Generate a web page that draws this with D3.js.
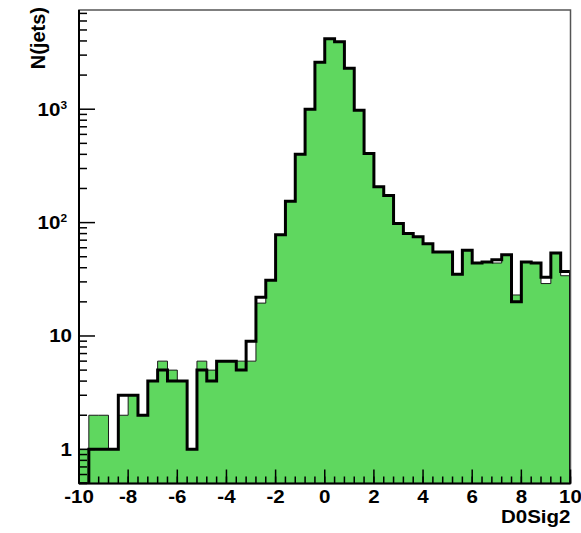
<!DOCTYPE html>
<html>
<head>
<meta charset="utf-8">
<script src="https://cdn.jsdelivr.net/npm/d3@7/dist/d3.min.js"></script>
<style>
  html, body { margin: 0; padding: 0; background: #ffffff; }
  svg { display: block; }
  text { font-family: "Liberation Sans", Arial, Helvetica, sans-serif; font-weight: bold; fill: #000; }
</style>
</head>
<body>
<svg id="chart" width="581" height="533"></svg>
<script>
// Bin edges of the D0Sig2 histogram (50 bins of 0.4 from -10 to 10)
const binEdges = [
  -10, -9.6, -9.2, -8.8, -8.4, -8, -7.6, -7.2, -6.8, -6.4,
  -6, -5.6, -5.2, -4.8, -4.4, -4, -3.6, -3.2, -2.8, -2.4,
  -2, -1.6, -1.2, -0.8, -0.4, 0, 0.4, 0.8, 1.2, 1.6,
  2, 2.4, 2.8, 3.2, 3.6, 4, 4.4, 4.8, 5.2, 5.6,
  6, 6.4, 6.8, 7.2, 7.6, 8, 8.4, 8.8, 9.2, 9.6, 10
];

// Filled (green) histogram contents per bin
const filledCounts = [
  1, 2, 2, 1, 2, 3, 2, 4, 6, 5,
  4, 1, 6, 5, 6, 6, 6, 6, 19.5, 31,
  78, 154, 400, 1000, 2600, 4190, 3930, 2300, 980, 406,
  207, 173, 98, 80, 75, 65, 55, 55, 35, 57,
  44, 45, 44, 52, 23, 45, 44, 29, 54, 34
];

// Outline (black) histogram contents per bin
const lineCounts = [
  0, 1, 1, 1, 3, 3, 2, 4, 5, 4,
  4, 1, 5, 4, 6, 6, 5, 9, 22, 31,
  78, 154, 400, 1000, 2600, 4190, 3930, 2300, 980, 406,
  207, 173, 98, 80, 75, 65, 55, 55, 35, 57,
  44, 45, 47, 52, 20, 45, 44, 33, 54, 37
];

const xTickValues = [-10, -8, -6, -4, -2, 0, 2, 4, 6, 8, 10];
const xTickLabels = ["-10", "-8", "-6", "-4", "-2", "0", "2", "4", "6", "8", "10"];
const yMajorTicks = [1, 10, 100, 1000];
const yTickLabels = ["1", "10", "10^2", "10^3"];
const xTitle = "D0Sig2";
const yTitle = "N(jets)";

const svg = d3.select("#chart");
const frameL = 79, frameR = 570.5, frameT = 10, frameB = 483.5;

const x = d3.scaleLinear().domain([-10, 10]).range([frameL, frameR]);
const y = d3.scaleLog().domain([0.5, 7500]).range([frameB, frameT]).clamp(true);
const yv = v => (v > 0 ? y(v) : frameB);

// Step outline of a histogram, closed down to the baseline at both ends
function stepPoints(counts) {
  const pts = [[x(binEdges[0]), frameB]];
  counts.forEach((c, i) => {
    pts.push([x(binEdges[i]), yv(c)]);
    pts.push([x(binEdges[i + 1]), yv(c)]);
  });
  pts.push([x(binEdges[binEdges.length - 1]), frameB]);
  return pts;
}

const line = d3.line();

const plot = svg.append("g");
plot.append("defs").append("clipPath").attr("id", "frameClip")
  .append("rect").attr("x", frameL).attr("y", frameT)
  .attr("width", frameR - frameL).attr("height", frameB - frameT);

const hist = plot.append("g").attr("clip-path", "url(#frameClip)");

hist.append("path")
  .attr("d", line(stepPoints(filledCounts)) + "Z")
  .attr("fill", "#5fd75f")
  .attr("stroke", "#1a1a1a")
  .attr("stroke-width", 1);

hist.append("path")
  .attr("d", line(stepPoints(lineCounts)))
  .attr("fill", "none")
  .attr("stroke", "#000")
  .attr("stroke-width", 3)
  .attr("stroke-linejoin", "miter");

// Frame
svg.append("rect")
  .attr("x", frameL).attr("y", frameT)
  .attr("width", frameR - frameL).attr("height", frameB - frameT)
  .attr("fill", "none").attr("stroke", "#555").attr("stroke-width", 1.5);

// X axis: major ticks every 2, minor ticks every 0.4, drawn inward
const xAxis = svg.append("g");
const xMinor = d3.range(0, 51).map(i => -10 + 0.4 * i);
xAxis.selectAll("line.minor").data(xMinor).join("line")
  .attr("class", "minor")
  .attr("x1", d => x(d)).attr("x2", d => x(d))
  .attr("y1", frameB).attr("y2", frameB - 7)
  .attr("stroke", "#000").attr("stroke-width", 1.5);
xAxis.selectAll("line.major").data(xTickValues).join("line")
  .attr("class", "major")
  .attr("x1", d => x(d)).attr("x2", d => x(d))
  .attr("y1", frameB).attr("y2", frameB - 14)
  .attr("stroke", "#000").attr("stroke-width", 1.5);
xAxis.append("line")
  .attr("x1", frameL).attr("x2", frameR).attr("y1", frameB).attr("y2", frameB)
  .attr("stroke", "#000").attr("stroke-width", 2);
xAxis.selectAll("text").data(xTickValues).join("text")
  .attr("transform", d => `translate(${x(d)},503) scale(1.08,1)`)
  .attr("text-anchor", "middle")
  .style("font-size", "19px")
  .text((d, i) => xTickLabels[i]);

// Y axis: log decades with minor ticks at 2..9 of each decade
const yAxis = svg.append("g");
const yMinor = [];
[0.1, 1, 10, 100, 1000].forEach(dec => {
  for (let k = 2; k <= 9; k++) {
    const v = dec * k;
    if (v >= 0.5 && v <= 7500) yMinor.push(v);
  }
});
yAxis.selectAll("line.minor").data(yMinor).join("line")
  .attr("class", "minor")
  .attr("x1", frameL).attr("x2", frameL + 8)
  .attr("y1", d => y(d)).attr("y2", d => y(d))
  .attr("stroke", "#000").attr("stroke-width", 1.5);
yAxis.selectAll("line.major").data(yMajorTicks).join("line")
  .attr("class", "major")
  .attr("x1", frameL).attr("x2", frameL + 16)
  .attr("y1", d => y(d)).attr("y2", d => y(d))
  .attr("stroke", "#000").attr("stroke-width", 1.5);
yAxis.append("line")
  .attr("x1", frameL).attr("x2", frameL).attr("y1", frameT).attr("y2", frameB)
  .attr("stroke", "#000").attr("stroke-width", 2);

yMajorTicks.forEach((v, i) => {
  const label = yTickLabels[i];
  const parts = label.split("^");
  const t = yAxis.append("text")
    .attr("transform", `translate(${parts.length > 1 ? 67 : 72},${y(v) + 6.5}) scale(1.08,1)`)
    .attr("text-anchor", "end")
    .style("font-size", "19px");
  t.append("tspan").text(parts[0]);
  if (parts.length > 1) {
    t.append("tspan").attr("dy", -7).style("font-size", "11px").text(parts[1]);
  }
});

// Axis titles
svg.append("text")
  .attr("transform", `translate(${frameR},523) scale(1.08,1)`)
  .attr("text-anchor", "end")
  .style("font-size", "19px")
  .text(xTitle);

svg.append("text")
  .attr("transform", "translate(45,7) rotate(-90)")
  .attr("text-anchor", "end")
  .style("font-size", "20px")
  .text(yTitle);
</script>
</body>
</html>
